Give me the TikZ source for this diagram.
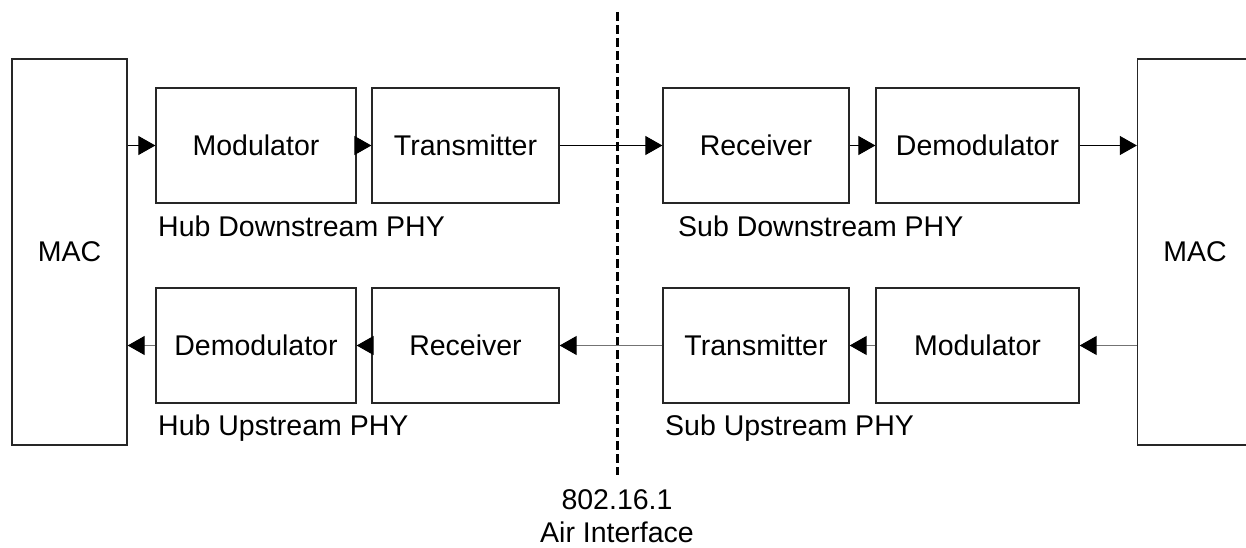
\documentclass[tikz,border=0pt]{standalone}
\usepackage{fontspec}
\setmainfont{Liberation Sans}
\usetikzlibrary{arrows.meta}
\begin{document}
\begin{tikzpicture}[x=1pt,y=-1pt,
  txt/.style={font=\fontsize{28.5}{34}\selectfont},
  blk/.style={txt,draw=black!85,line width=1.3pt,rectangle,inner sep=0pt,
    minimum width=200pt,minimum height=115pt},
  macblk/.style={txt,draw=black!85,line width=1.3pt,rectangle,inner sep=0pt,
    minimum width=115pt,minimum height=386pt},
  lbl/.style={txt,anchor=west,inner sep=0pt},
  air/.style={txt,inner sep=0pt},
  arr/.style={line width=1pt,-{Triangle[length=17pt,width=19pt]}},
  arrg/.style={arr,draw=black!55,-{Triangle[length=17pt,width=19pt,fill=black,color=black]}},
  iface/.style={line width=3pt,dash pattern=on 9pt off 4pt}]
\useasboundingbox (0,0) rectangle (1246,548);

% MAC blocks on both ends
\node[macblk] (macL) at (69.5,252) {MAC};
\node[macblk] (macR) at (1195,252) {MAC};

% downstream chain
\node[blk] (hmod) at (256,145.5) {Modulator};
\node[blk,minimum width=187pt] (htx) at (465.5,145.5) {Transmitter};
\node[blk,minimum width=186pt] (srx) at (756,145.5) {Receiver};
\node[blk,minimum width=203pt] (sdem) at (977.5,145.5) {Demodulator};

% upstream chain
\node[blk] (hdem) at (256,345.5) {Demodulator};
\node[blk,minimum width=187pt] (hrx) at (465.5,345.5) {Receiver};
\node[blk,minimum width=186pt] (stx) at (756,345.5) {Transmitter};
\node[blk,minimum width=203pt] (smod) at (977.5,345.5) {Modulator};

% group captions
\node[lbl] (capHD) at (158,226) {Hub Downstream PHY};
\node[lbl] (capSD) at (678,226) {Sub Downstream PHY};
\node[lbl] (capHU) at (158,428) {Hub Upstream PHY};
\node[lbl] (capSU) at (665,428) {Sub Upstream PHY};

% air interface boundary
\coordinate (ifTop) at (617,12);
\coordinate (ifBot) at (617,475);
\draw[iface] (ifTop) -- (ifBot);
\node[air] (ifNum) at (617,500) {802.16.1};
\node[air] (ifName) at (617,532) {Air Interface};

% downstream flow
\draw[arr] (macL.east |- hmod.west) -- (hmod.west);
\draw[arr] (hmod.east) -- (htx.west);
\draw[arr] (htx.east) -- (srx.west);
\draw[arr] (srx.east) -- (sdem.west);
\draw[arr] (sdem.east) -- (macR.west |- sdem.east);

% upstream flow
\draw[arrg] (macR.west |- smod.east) -- (smod.east);
\draw[arrg] (smod.west) -- (stx.east);
\draw[arrg] (stx.west) -- (hrx.east);
\draw[arrg] (hrx.west) -- (hdem.east);
\draw[arrg] (hdem.west) -- (macL.east |- hdem.west);
\end{tikzpicture}
\end{document}
